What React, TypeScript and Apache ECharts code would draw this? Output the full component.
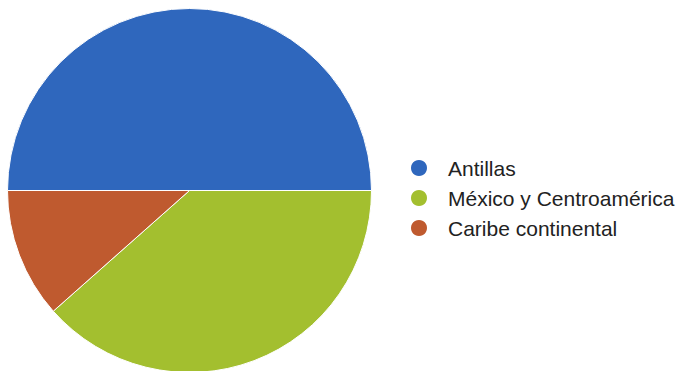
import React, { useEffect, useRef } from "react";
import * as echarts from "echarts";

const categories = ["Antillas", "México y Centroamérica", "Caribe continental"];
const values = [13, 10, 3];
const colors = ["#2f67bd", "#a3bf2f", "#bf5a2f"];

export default function App() {
  const ref = useRef<HTMLDivElement>(null);
  useEffect(() => {
    document.body.style.margin = "0";
    const chart = echarts.init(ref.current!, null, { renderer: "svg" });
    chart.setOption({
      animation: false,
      color: colors,
      legend: {
        orient: "vertical",
        left: 409,
        top: 156,
        padding: 0,
        icon: "circle",
        itemWidth: 18,
        itemHeight: 18,
        itemGap: 6,
        textStyle: {
          fontFamily: "Liberation Sans, Arial, sans-serif",
          fontSize: 21,
          lineHeight: 24,
          color: "#222",
          padding: [0, 0, 0, 15],
        },
        data: categories,
      },
      series: [
        {
          type: "pie",
          center: [189.5, 190.5],
          radius: 182,
          startAngle: 180,
          clockwise: true,
          label: { show: false },
          labelLine: { show: false },
          itemStyle: { borderColor: "#fff", borderWidth: 1 },
          emphasis: { disabled: true },
          data: categories.map((name, i) => ({ name, value: values[i] })),
        },
      ],
    });
    return () => chart.dispose();
  }, []);
  return <div ref={ref} style={{ width: 686, height: 371 }} />;
}
